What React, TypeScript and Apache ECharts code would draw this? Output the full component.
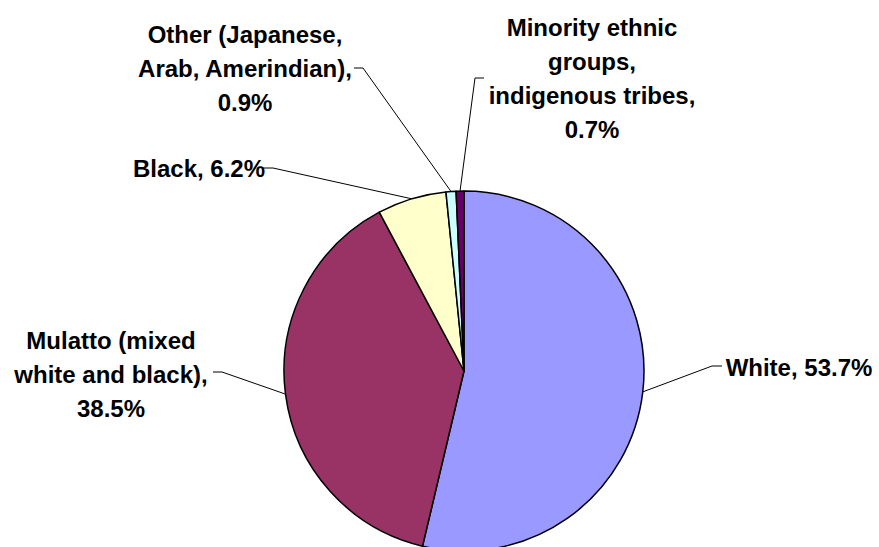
import React, { useEffect, useRef } from "react";
import * as echarts from "echarts";

const categories = [
  "White",
  "Mulatto (mixed\nwhite and black)",
  "Black",
  "Other (Japanese,\nArab, Amerindian)",
  "Minority ethnic\ngroups,\nindigenous tribes",
];
const values = [53.7, 38.5, 6.2, 0.9, 0.7];
const colors = ["#9999FF", "#993366", "#FFFFCC", "#CCFFFF", "#660066"];
const multiLine = [false, true, false, true, true];

// label layout: [textCenterX, textCenterY, elbowX, elbowY, endX, endY]
const labelLayouts = [
  [799, 367, 712, 366, 722, 366],
  [111, 374, 222, 372, 213, 372],
  [199, 168, 273, 168, 263, 168],
  [245, 68, 363, 68, 354, 68],
  [592, 78, 475, 78, 484, 78],
];

export default function App() {
  const ref = useRef<HTMLDivElement>(null);
  useEffect(() => {
    if (!ref.current) return;
    const chart = echarts.init(ref.current, undefined, { renderer: "svg" });
    chart.setOption({
      animation: false,
      backgroundColor: "#ffffff",
      series: [
        {
          type: "pie",
          center: [464, 371],
          radius: 180,
          startAngle: 90,
          clockwise: true,
          avoidLabelOverlap: false,
          data: categories.map((c, i) => ({
            name: c,
            value: values[i],
            itemStyle: { color: colors[i] },
          })),
          itemStyle: { borderColor: "#000000", borderWidth: 1.5 },
          label: {
            show: true,
            position: "outside",
            color: "#000000",
            fontFamily: "'Liberation Sans', Arial, sans-serif",
            fontWeight: "bold",
            fontSize: 24,
            lineHeight: 34,
            align: "center",
            formatter: (p: any) =>
              p.name + (multiLine[p.dataIndex] ? ",\n" : ", ") + values[p.dataIndex].toFixed(1) + "%",
          },
          labelLine: {
            show: true,
            lineStyle: { color: "#000000", width: 1 },
          },
          emphasis: { disabled: true },
          labelLayout: (params: any) => {
            const i = params.dataIndex;
            const L = labelLayouts[i];
            const anchor = params.labelLinePoints ? params.labelLinePoints[0] : [L[2], L[3]];
            return {
              x: L[0],
              y: L[1],
              align: "center",
              verticalAlign: "middle",
              labelLinePoints: [anchor, [L[2], L[3]], [L[4], L[5]]],
            };
          },
        },
      ],
    });
    return () => chart.dispose();
  }, []);
  return (
    <div
      ref={ref}
      style={{ position: "absolute", left: 0, top: 0, width: 879, height: 547 }}
    />
  );
}
